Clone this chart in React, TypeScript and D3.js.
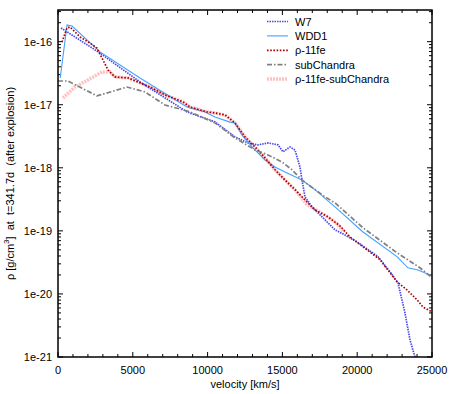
import React from "react";
import * as d3 from "d3";

const W = 452;
const H = 394;
const MARGIN = { top: 10, right: 20, bottom: 37, left: 58 };

// velocity [km/s] and density [g/cm^3]
const w7V = [200, 2807, 5481, 8622, 10494, 11831, 12700, 13368, 14036, 14705, 15039, 15507, 15841, 16175, 16309, 16510, 16977, 17646, 18515, 19183, 19985, 21389, 22191, 22726, 23193, 23528, 23862, 24100];
const w7Rho = [1.65e-16, 6.6e-17, 2.3e-17, 7.7e-18, 5.35e-18, 3.09e-18, 2.48e-18, 2.31e-18, 2.48e-18, 2.31e-18, 1.79e-18, 2.14e-18, 1.92e-18, 1.03e-18, 6.4e-19, 3.46e-19, 2.4e-19, 1.67e-19, 1.04e-19, 8.6e-20, 6.7e-20, 3.9e-20, 2.24e-20, 1.5e-20, 5.0e-21, 1.87e-21, 1.0e-21, 6e-22];

const wdd1V = [150, 602, 936, 2807, 5481, 8622, 9826, 10494, 11496, 11831, 12299, 12967, 13836, 14504, 15173, 16309, 17178, 18515, 20386, 22659, 23394, 24062, 25000];
const wdd1Rho = [2.66e-17, 1.84e-16, 1.77e-16, 6.9e-17, 2.66e-17, 9.2e-18, 7.7e-18, 6.4e-18, 5.3e-18, 5.15e-18, 3.3e-18, 2.14e-18, 1.33e-18, 1.03e-18, 8.6e-19, 6.4e-19, 4.5e-19, 2.4e-19, 9.6e-20, 3.9e-20, 2.6e-20, 2.4e-20, 1.94e-20];

const fe11V = [267, 602, 802, 1470, 2139, 2607, 2941, 3342, 3810, 4679, 5347, 6283, 7152, 8355, 8823, 9959, 10494, 11162, 11831, 12499, 13167, 13836, 14504, 15173, 15841, 16510, 17178, 18047, 18849, 19518, 20386, 21522, 22659, 23327, 23996, 24397, 25000];
const fe11Rho = [9.9e-17, 1.65e-16, 1.71e-16, 1.19e-16, 9.5e-17, 7.9e-17, 5.5e-17, 3.56e-17, 2.76e-17, 2.66e-17, 2.3e-17, 1.85e-17, 1.43e-17, 1.11e-17, 9.2e-18, 7.7e-18, 7.4e-18, 6.9e-18, 5.15e-18, 3.09e-18, 2.14e-18, 1.44e-18, 9.3e-19, 6.4e-19, 4.5e-19, 3.1e-19, 2.15e-19, 1.67e-19, 1.2e-19, 8.0e-20, 5.6e-20, 3.5e-20, 1.56e-20, 1.16e-20, 8.1e-21, 6.2e-21, 5.2e-21];

const subChV = [0, 668, 2607, 4612, 5815, 7152, 8355, 8823, 10494, 11831, 13167, 14036, 14972, 15641, 16309, 17846, 18515, 20386, 22659, 24196, 25000];
const subChRho = [2.38e-17, 2.38e-17, 1.38e-17, 1.91e-17, 1.6e-17, 9.9e-18, 8.3e-18, 7.7e-18, 5.15e-18, 2.98e-18, 1.92e-18, 1.6e-18, 1.24e-18, 9.3e-19, 6.4e-19, 3.46e-19, 2.78e-19, 1.12e-19, 4.5e-20, 2.6e-20, 1.8e-20];

const fe11SubV = [334, 1136, 2005, 2941, 3476, 3810, 4679, 5347, 6283, 7152, 8355, 8823, 9959, 10494, 11162, 11831, 12499, 13167, 13836, 14504, 15173, 15841, 16643, 17713, 18582, 19117];
const fe11SubRho = [1.28e-17, 1.91e-17, 2.47e-17, 3.31e-17, 3.31e-17, 2.76e-17, 2.66e-17, 2.3e-17, 1.85e-17, 1.43e-17, 1.11e-17, 9.2e-18, 7.7e-18, 7.4e-18, 6.9e-18, 5.15e-18, 3.09e-18, 2.14e-18, 1.44e-18, 9.3e-19, 6.4e-19, 4.5e-19, 2.6e-19, 1.86e-19, 1.34e-19, 9.6e-20];

const xTicks = [0, 5000, 10000, 15000, 20000, 25000];
const yTicks = [1e-21, 1e-20, 1e-19, 1e-18, 1e-17, 1e-16];
const yTickLabels = ["1e-21", "1e-20", "1e-19", "1e-18", "1e-17", "1e-16"];

const SERIES = [
  { name: "ρ-11fe-subChandra", v: fe11SubV, rho: fe11SubRho, color: "#ffb0b0", width: 3.5, dash: "2,1", opacity: 0.8 },
  { name: "W7", v: w7V, rho: w7Rho, color: "#4848f0", width: 1.7, dash: "1.5,1", opacity: 1 },
  { name: "WDD1", v: wdd1V, rho: wdd1Rho, color: "#44a0ff", width: 1.1, dash: "none", opacity: 1 },
  { name: "ρ-11fe", v: fe11V, rho: fe11Rho, color: "#aa0000", width: 1.7, dash: "1.6,1.6", opacity: 1 },
  { name: "subChandra", v: subChV, rho: subChRho, color: "#808080", width: 1.7, dash: "5,2,1.5,2", opacity: 1 },
];
const LEGEND_ORDER = ["W7", "WDD1", "ρ-11fe", "subChandra", "ρ-11fe-subChandra"];

const FONT = "'Liberation Sans', Arial, sans-serif";

export default function App() {
  const x0 = MARGIN.left;
  const x1 = W - MARGIN.right;
  const y0 = MARGIN.top;
  const y1 = H - MARGIN.bottom;

  const xScale = d3.scaleLinear().domain([0, 25000]).range([x0, x1]);
  const yScale = d3.scaleLog().domain([1e-21, 3.18e-16]).range([y1, y0]);

  const line = (v: number[], rho: number[]) =>
    d3
      .line<number>()
      .x((_, i) => xScale(v[i]))
      .y((_, i) => yScale(rho[i]))(v) || "";

  const xMinor = d3.range(0, 25001, 1000).filter((d) => d % 5000 !== 0);
  const yMinor: number[] = [];
  for (let e = -21; e <= -16; e++) {
    for (let m = 2; m <= 9; m++) {
      const val = m * Math.pow(10, e);
      if (val < 3.18e-16) yMinor.push(val);
    }
  }

  return (
    <svg width={W} height={H} style={{ position: "absolute", left: 0, top: 0, background: "#fff" }} fontFamily={FONT}>
      <defs>
        <clipPath id="plot-clip">
          <rect x={x0} y={y0} width={x1 - x0} height={y1 - y0} />
        </clipPath>
      </defs>

      {/* ticks */}
      <g stroke="#000" strokeWidth={1}>
        {xTicks.map((t) => (
          <g key={"xt" + t}>
            <line x1={xScale(t)} x2={xScale(t)} y1={y1} y2={y1 - 5} />
            <line x1={xScale(t)} x2={xScale(t)} y1={y0} y2={y0 + 5} />
          </g>
        ))}
        {xMinor.map((t) => (
          <g key={"xm" + t}>
            <line x1={xScale(t)} x2={xScale(t)} y1={y1} y2={y1 - 3} />
            <line x1={xScale(t)} x2={xScale(t)} y1={y0} y2={y0 + 3} />
          </g>
        ))}
        {yTicks.map((t) => (
          <g key={"yt" + t}>
            <line x1={x0} x2={x0 + 5} y1={yScale(t)} y2={yScale(t)} />
            <line x1={x1} x2={x1 - 5} y1={yScale(t)} y2={yScale(t)} />
          </g>
        ))}
        {yMinor.map((t) => (
          <g key={"ym" + t}>
            <line x1={x0} x2={x0 + 3} y1={yScale(t)} y2={yScale(t)} />
            <line x1={x1} x2={x1 - 3} y1={yScale(t)} y2={yScale(t)} />
          </g>
        ))}
      </g>

      {/* tick labels */}
      <g fontSize={11} fill="#000">
        {xTicks.map((t) => (
          <text key={"xl" + t} x={xScale(t)} y={y1 + 17} textAnchor="middle">
            {t}
          </text>
        ))}
        {yTicks.map((t, i) => (
          <text key={"yl" + t} x={x0 - 6} y={yScale(t) + 4} textAnchor="end">
            {yTickLabels[i]}
          </text>
        ))}
      </g>

      {/* axis titles */}
      <text x={(x0 + x1) / 2} y={H - 6} textAnchor="middle" fontSize={11}>
        velocity [km/s]
      </text>
      <text
        transform={`translate(14,${(y0 + y1) / 2}) rotate(-90)`}
        textAnchor="middle"
        fontSize={11}
        xmlSpace="preserve"
      >
        ρ [g/cm<tspan dy={-5} fontSize={8}>3</tspan>
        <tspan dy={5}>]  at  t=341.7d  (after explosion)</tspan>
      </text>

      {/* curves */}
      <g clipPath="url(#plot-clip)" fill="none">
        {SERIES.map((s) => (
          <path
            key={s.name}
            d={line(s.v, s.rho)}
            stroke={s.color}
            strokeWidth={s.width}
            strokeDasharray={s.dash}
            strokeOpacity={s.opacity}
          />
        ))}
      </g>

      {/* legend */}
      <g fontSize={11}>
        {LEGEND_ORDER.map((name, i) => {
          const s = SERIES.find((d) => d.name === name)!;
          const yy = 21.5 + i * 14.4;
          return (
            <g key={"lg" + name}>
              <line x1={267} x2={288} y1={yy} y2={yy} stroke={s.color} strokeWidth={s.width} strokeDasharray={s.dash} strokeOpacity={s.opacity} />
              <text x={295} y={yy + 4}>
                {name}
              </text>
            </g>
          );
        })}
      </g>

      {/* frame */}
      <rect x={x0} y={y0} width={x1 - x0} height={y1 - y0} fill="none" stroke="#000" strokeWidth={1.5} />
    </svg>
  );
}
